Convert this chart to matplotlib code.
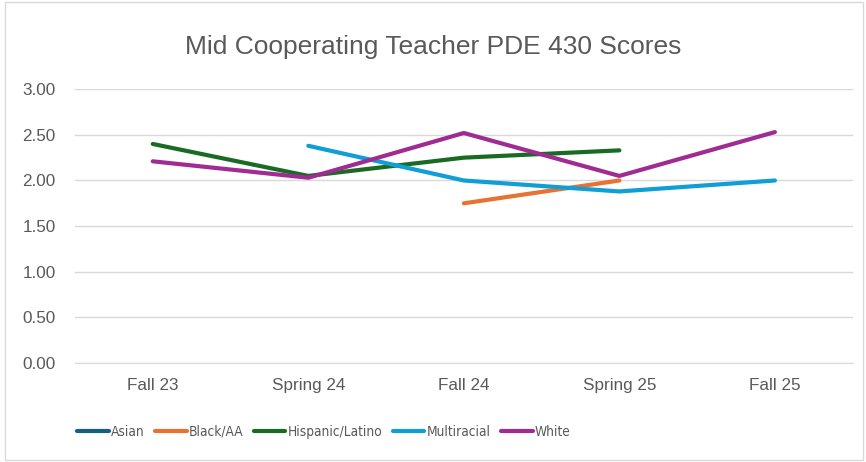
import numpy as np
import matplotlib.pyplot as plt
from matplotlib.patches import Rectangle

categories = ["Fall 23", "Spring 24", "Fall 24", "Spring 25", "Fall 25"]
asian = [np.nan, np.nan, np.nan, np.nan, np.nan]
black_aa = [np.nan, np.nan, 1.75, 2.00, np.nan]
hispanic = [2.40, 2.05, 2.25, 2.33, np.nan]
multiracial = [np.nan, 2.38, 2.00, 1.88, 2.00]
white = [2.21, 2.03, 2.52, 2.05, 2.53]

series = [
    ("Asian", asian, "#156082"),
    ("Black/AA", black_aa, "#E97132"),
    ("Hispanic/Latino", hispanic, "#196B24"),
    ("Multiracial", multiracial, "#0F9ED5"),
    ("White", white, "#A02B93"),
]

text_color = "#595959"
plt.rcParams["font.family"] = ["Liberation Sans", "DejaVu Sans"]

fig = plt.figure(figsize=(8.66, 4.62), dpi=100)
ax = fig.add_axes([0.0866, 0.214, 0.898, 0.593])

x = np.arange(len(categories))
for name, vals, color in series:
    ax.plot(x, vals, color=color, lw=3, label=name, solid_capstyle="round")

ax.set_xlim(-0.5, len(categories) - 0.5)
ax.set_ylim(0, 3)
ax.set_yticks(np.arange(0, 3.01, 0.5))
ax.set_yticklabels([f"{v:.2f}" for v in np.arange(0, 3.01, 0.5)])
ax.set_xticks(x)
ax.set_xticklabels(categories)
ax.grid(axis="y", color="#d9d9d9", lw=1)
ax.set_axisbelow(True)
for s in ["top", "right", "left"]:
    ax.spines[s].set_visible(False)
ax.spines["bottom"].set_color("#d9d9d9")
ax.tick_params(length=0, colors=text_color, labelsize=12.3)
ax.tick_params(axis="x", pad=11)
ax.tick_params(axis="y", pad=14)

fig.text(0.5, 0.898, "Mid Cooperating Teacher PDE 430 Scores", ha="center", va="center",
         fontsize=19, color=text_color)

leg = fig.legend(loc="center", bbox_to_anchor=(0.374, 0.065), ncol=5, frameon=False,
                 prop={"family": "DejaVu Sans", "stretch": "condensed", "size": 9.8},
                 handlelength=2.3, handletextpad=0.15, columnspacing=0.8)
for t in leg.get_texts():
    t.set_color(text_color)

fig.patches.append(Rectangle((0.006, 0.005), 0.99, 0.99, transform=fig.transFigure,
                             fill=False, edgecolor="#d9d9d9", lw=1))

fig.savefig("out.png", dpi=100)
